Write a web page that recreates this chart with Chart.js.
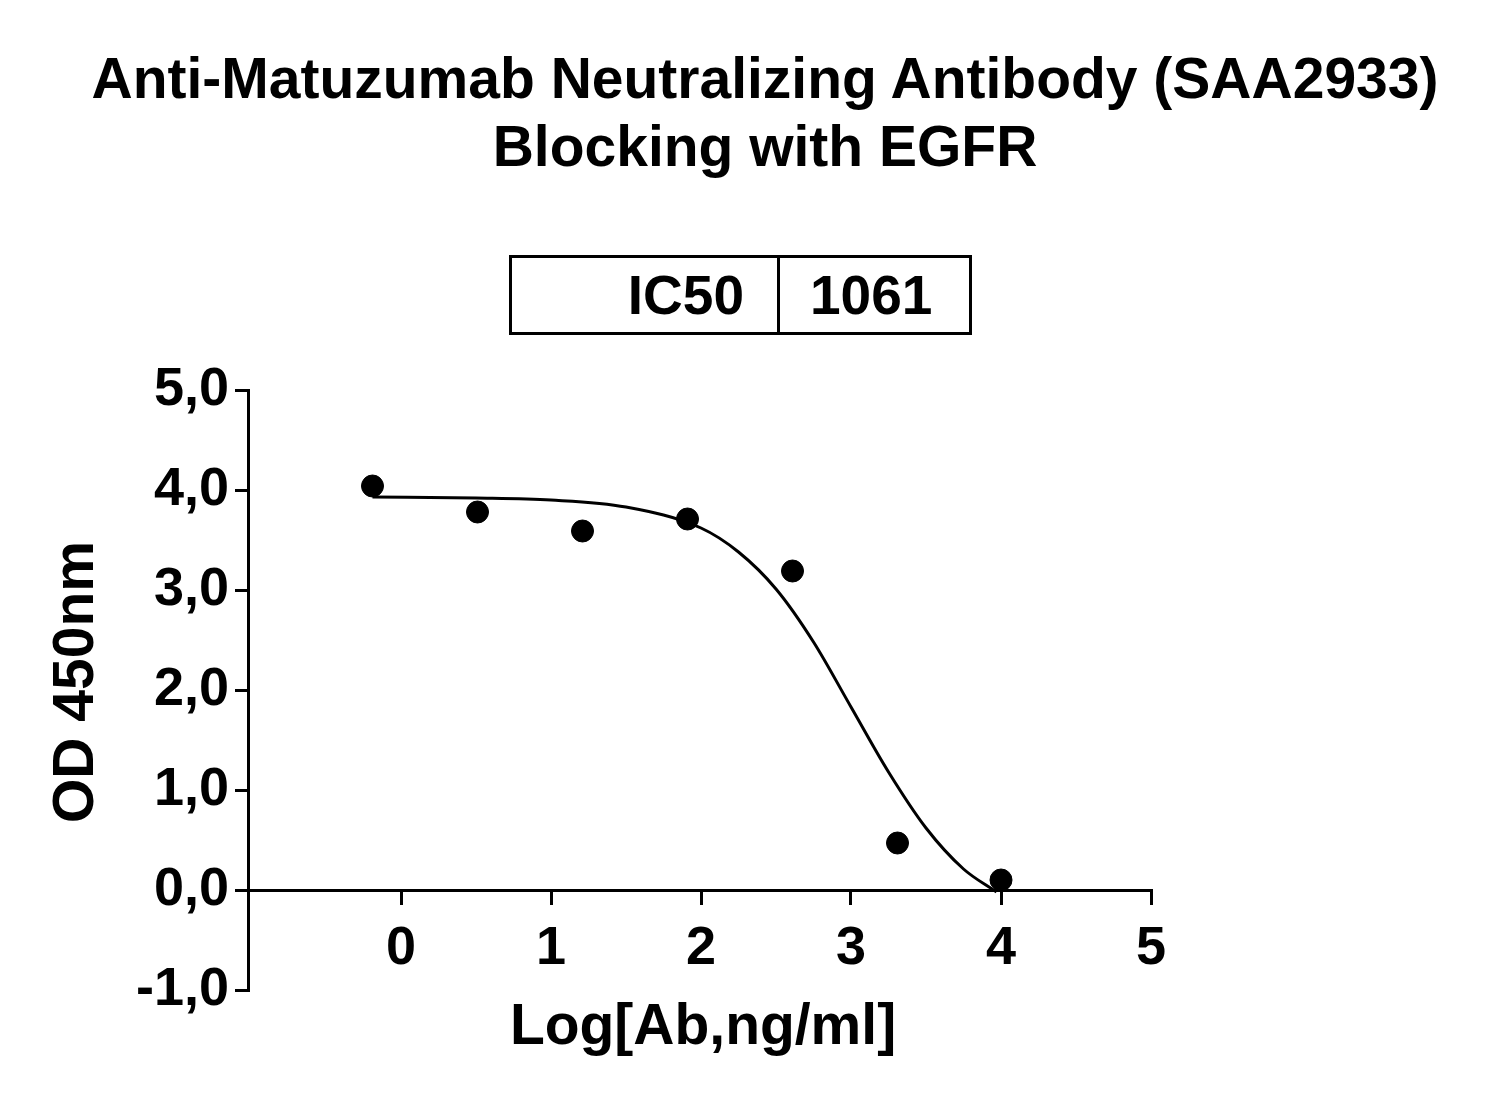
<!DOCTYPE html>
<html><head><meta charset="utf-8">
<script src="https://cdn.jsdelivr.net/npm/chart.js@4.4.0/dist/chart.umd.min.js"></script>
<style>
body{margin:0;background:#fff;font-family:"Liberation Sans",Arial,sans-serif;}
#wrap{position:relative;width:1501px;height:1104px;}
#title{position:absolute;left:0;top:44px;width:1530px;text-align:center;font-weight:bold;font-size:57px;line-height:68px;}
#box{position:absolute;left:509px;top:255px;width:457px;height:74px;border:3px solid #000;display:flex;font-weight:bold;font-size:55px;}
#box div{display:flex;align-items:center;}
</style></head><body>
<div id="wrap">
<canvas id="c" width="1501" height="1104"></canvas>
<div id="title">Anti-Matuzumab Neutralizing Antibody (SAA2933)<br>Blocking with EGFR</div>
<div id="box"><div style="width:268px;border-right:3px solid #000;justify-content:flex-end;padding-right:33px;box-sizing:border-box">IC50</div><div style="padding-left:30px">1061</div></div>
</div>
<script>
const pointX = [-0.19, 0.51, 1.21, 1.91, 2.61, 3.31, 4.00];
const pointY = [4.04, 3.78, 3.59, 3.71, 3.19, 0.47, 0.10];
const curveX = [-0.19, 0.5, 1.0, 1.5, 2.0, 2.25, 2.5, 2.75, 3.0, 3.25, 3.5, 3.75, 3.97];
const curveY = [3.93, 3.92, 3.90, 3.83, 3.62, 3.38, 3.01, 2.48, 1.83, 1.18, 0.62, 0.21, -0.02];
const xTicks = [0, 1, 2, 3, 4, 5];
const yTicks = [-1, 0, 1, 2, 3, 4, 5];

const font = {family:"Liberation Sans", weight:"bold", size:54};
const titles = {
  id:"titles",
  afterDraw(c){
    const g=c.ctx; g.save(); g.fillStyle="#000";
    g.font="bold 57px 'Liberation Sans'"; g.textAlign="center"; g.textBaseline="middle";
    g.fillText("Log[Ab,ng/ml]", 703, 1028);
    g.translate(77, 682); g.rotate(-Math.PI/2); g.fillText("OD 450nm", 0, 0);
    g.restore();
  }
};
new Chart(document.getElementById("c"), {
  type:"scatter",
  data:{datasets:[
    {data:curveX.map((x,i)=>({x, y:curveY[i]})), showLine:true, borderColor:"#000", borderWidth:3,
     pointRadius:0, cubicInterpolationMode:"monotone"},
    {data:pointX.map((x,i)=>({x, y:pointY[i]})), backgroundColor:"#000", borderColor:"#000", pointRadius:11}
  ]},
  plugins:[titles],
  options:{
    responsive:false, animation:false,
    layout:{padding:{top:390, right:350, bottom:114, left:0}},
    plugins:{legend:{display:false}, tooltip:{enabled:false}},
    scales:{
      x:{type:"linear", min:-1.02, max:5, position:{y:0},
         afterBuildTicks:s=>{s.ticks=xTicks.map(v=>({value:v}));},
         afterFit:s=>{s.height=0;},
         border:{color:"#000", width:3},
         grid:{drawOnChartArea:false, color:"#000", tickLength:13, lineWidth:3},
         ticks:{color:"#000", font, padding:14, maxRotation:0}},
      y:{type:"linear", min:-1, max:5,
         afterBuildTicks:s=>{s.ticks=yTicks.map(v=>({value:v}));},
         afterFit:s=>{s.width=248;},
         border:{color:"#000", width:3},
         grid:{drawOnChartArea:false, color:"#000", tickLength:13, lineWidth:3},
         ticks:{color:"#000", font, padding:6, callback:v=>v.toFixed(1).replace(".",",")}}
    }
  }
});
</script>
</body></html>
